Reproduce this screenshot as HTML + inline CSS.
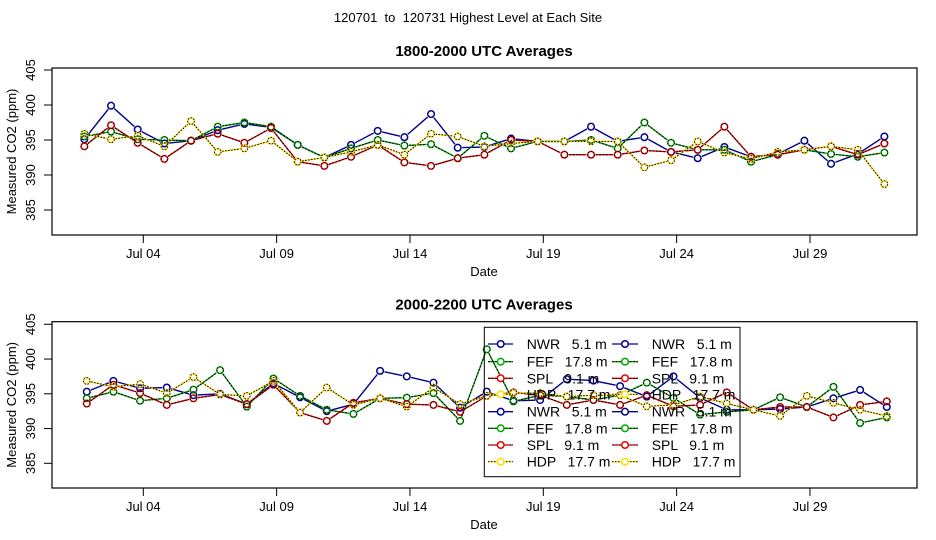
<!DOCTYPE html>
<html><head><meta charset="utf-8"><style>
body{margin:0;background:#fff}
svg{display:block;font-family:"Liberation Sans",sans-serif}
</style></head><body>
<svg id="chart" width="936" height="540" viewBox="0 0 936 540" xmlns="http://www.w3.org/2000/svg">
<rect width="936" height="540" fill="#fff"/>
<text x="468" y="22" text-anchor="middle" font-size="13" style="white-space:pre" xml:space="preserve">120701  to  120731 Highest Level at Each Site</text>
<g id="panels"></g>
</svg>
<script>
const days = [2,3,4,5,6,7,8,9,10,11,12,13,14,15,16,17,18,19,20,21,22,23,24,25,26,27,28,29,30,31,32];
const tickDays = [4,9,14,19,24,29];
const tickLabels = ["Jul 04","Jul 09","Jul 14","Jul 19","Jul 24","Jul 29"];
const yTicks = [385,390,395,400,405];
const siteNames = ["NWR","FEF","SPL","HDP"];
const siteHeights = ["5.1 m","17.8 m","9.1 m","17.7 m"];
const topNWR = [395.1,399.9,396.5,394.5,394.9,396.4,397.3,396.8,394.3,392.5,394.3,396.3,395.4,398.7,393.9,394.0,395.2,394.8,394.8,396.9,394.8,395.4,393.3,392.4,394.0,392.6,393.0,394.9,391.6,393.0,395.5];
const topFEF = [395.5,396.2,395.1,395.0,394.9,396.9,397.5,396.9,394.3,392.5,393.8,395.0,394.2,394.4,392.4,395.6,393.8,394.8,394.8,395.0,393.8,397.5,394.6,393.6,393.6,391.9,392.9,393.6,393.0,392.6,393.2];
const topSPL = [394.1,397.1,394.6,392.3,394.9,395.9,394.6,396.7,391.9,391.3,392.6,394.3,391.8,391.3,392.4,392.9,395.0,394.8,392.9,392.9,392.9,393.5,393.3,393.6,396.9,392.6,392.9,393.6,394.1,392.9,394.5];
const topHDP = [395.9,395.1,395.6,394.1,397.7,393.3,393.8,394.9,391.9,392.5,393.3,394.3,392.9,395.9,395.5,394.1,394.5,394.8,394.8,394.8,394.8,391.1,392.1,394.8,393.2,392.3,393.3,393.6,394.1,393.6,388.7];
const botNWR = [395.3,396.85,395.8,395.9,394.8,395.0,393.5,396.5,394.5,392.5,393.5,398.3,397.5,396.6,393.0,395.3,394.0,394.1,397.1,396.9,396.1,394.6,397.5,394.4,392.7,392.7,392.8,393.1,394.35,395.55,393.1];
const botFEF = [394.35,395.3,394.0,394.35,395.6,398.4,393.15,397.2,394.7,392.7,392.1,394.35,394.45,395.1,391.1,401.4,393.9,394.8,394.6,394.1,394.8,396.6,394.4,392.0,392.4,392.7,394.5,393.1,396.0,390.8,391.6];
const botSPL = [393.6,396.3,395.1,393.4,394.35,394.9,393.5,396.3,392.3,391.1,393.7,394.35,393.5,393.4,392.4,394.7,395.2,394.8,393.4,394.1,393.4,394.8,393.2,393.4,395.2,392.7,393.1,393.1,391.6,393.4,393.9];
const botHDP = [396.85,396.0,396.4,395.1,397.4,394.9,394.7,396.85,392.3,395.9,393.4,394.35,393.15,395.9,393.5,394.7,395.1,395.1,394.6,394.8,394.8,393.2,393.4,394.6,393.6,392.7,391.8,394.7,393.7,392.7,391.8];

const NS="http://www.w3.org/2000/svg";
const colors=["#00008b","#00aa00","#ee0000","#ffdd00"];
const overlay=[null,"2 1.5","2 1.5","1.5 1.5"];
function mk(tag,attrs,parent){const e=document.createElementNS(NS,tag);for(const k in attrs)e.setAttribute(k,attrs[k]);parent.appendChild(e);return e;}
const root=document.getElementById('panels');
const xScale=d=>63.3+26.667*(d-1);
function panel(cfg){
  const g=mk('g',{},root);
  
  
  const yS=v=>cfg.y405+(405-v)*cfg.ppm;
  const box=mk('rect',{x:52,y:cfg.top,width:865,height:cfg.bot-cfg.top,fill:'none',stroke:'#000','stroke-width':1.2},g);
  
  
  const t=mk('text',{x:484,y:cfg.top-12,'text-anchor':'middle','font-size':15,'font-weight':'bold'},g);
  t.textContent=cfg.title;
  
  
  yTicks.forEach(v=>{
    const y=yS(v);
    mk('line',{x1:44,x2:52,y1:y,y2:y,stroke:'#000'},g);
    const l=mk('text',{x:0,y:0,'font-size':13,'text-anchor':'middle',transform:`translate(35,${y}) rotate(-90)`},g);
    l.textContent=v;
    
    
  });
  const yl=mk('text',{x:0,y:0,'font-size':13,'text-anchor':'middle',transform:`translate(16,${(cfg.top+cfg.bot)/2}) rotate(-90)`},g);
  yl.textContent='Measured CO2 (ppm)';
  
  
  tickDays.forEach((d,i)=>{
    const x=xScale(d);
    mk('line',{x1:x,x2:x,y1:cfg.bot,y2:cfg.bot+8,stroke:'#000'},g);
    const l=mk('text',{x:x,y:cfg.bot+23,'font-size':13,'text-anchor':'middle'},g);
    l.textContent=tickLabels[i];
    
    
  });
  const xl=mk('text',{x:484,y:cfg.bot+41,'font-size':13,'text-anchor':'middle'},g);
  xl.textContent='Date';
  
  
  cfg.series.forEach((vals,s)=>{
    const sg=mk('g',{},g);
    
    
    const pts=vals.map((v,i)=>[xScale(days[i]+cfg.off),yS(v)]);
    for(let i=0;i<pts.length-1;i++){
      const [x1,y1]=pts[i],[x2,y2]=pts[i+1];
      const dx=x2-x1,dy=y2-y1,L=Math.hypot(dx,dy);
      if(L<10)continue;
      const ux=dx/L*4.5,uy=dy/L*4.5;
      mk('line',{x1:x1+ux,y1:y1+uy,x2:x2-ux,y2:y2-uy,stroke:colors[s],'stroke-width':1.4},sg);
      if(overlay[s])mk('line',{x1:x1+ux,y1:y1+uy,x2:x2-ux,y2:y2-uy,stroke:'#000','stroke-width':1,'stroke-dasharray':overlay[s]},sg);
    }
    pts.forEach(([x,y])=>{
      const c=mk('circle',{cx:x,cy:y,r:3.3,fill:'none',stroke:colors[s],'stroke-width':1.5},sg);
      
      
      if(overlay[s])mk('circle',{cx:x,cy:y,r:3.3,fill:'none',stroke:'#000','stroke-width':0.9,'stroke-dasharray':'1.5 1.5'},sg);
    });
  });
  return g;
}
panel({name:'panel-1800-2000',title:'1800-2000 UTC Averages',top:68,bot:235,y405:70,ppm:7,off:-0.21,series:[topNWR,topFEF,topSPL,topHDP]});
const g2=panel({name:'panel-2000-2200',title:'2000-2200 UTC Averages',top:321.7,bot:488,y405:324.3,ppm:6.95,off:-0.12,series:[botNWR,botFEF,botSPL,botHDP]});
const lg=mk('g',{},g2);


mk('rect',{x:484.3,y:327.3,width:255.7,height:149.4,fill:'none',stroke:'#000','stroke-width':1},lg);
const rowsY=[344,361.7,378.3,394.3,411.7,428.3,445,461.7];
[[488,513,500.7,526.7],[612,638,625,651.7]].forEach(col=>{
  rowsY.forEach((y,r)=>{
    const s=r%4;
    const e=mk('g',{},lg);
    
    
    mk('line',{x1:col[0],x2:col[1],y1:y,y2:y,stroke:colors[s],'stroke-width':1.3},e);
    if(overlay[s])mk('line',{x1:col[0],x2:col[1],y1:y,y2:y,stroke:'#000','stroke-width':0.8,'stroke-dasharray':overlay[s]},e);
    mk('circle',{cx:col[2],cy:y,r:3.3,fill:'#fff',stroke:colors[s],'stroke-width':1.5},e);
    const t=mk('text',{x:col[3],y:y+5,'font-size':14,'xml:space':'preserve'},e);
    t.style.whiteSpace='pre';
    t.textContent=siteNames[s]+'   '+siteHeights[s];
  });
});
</script>
</body></html>
